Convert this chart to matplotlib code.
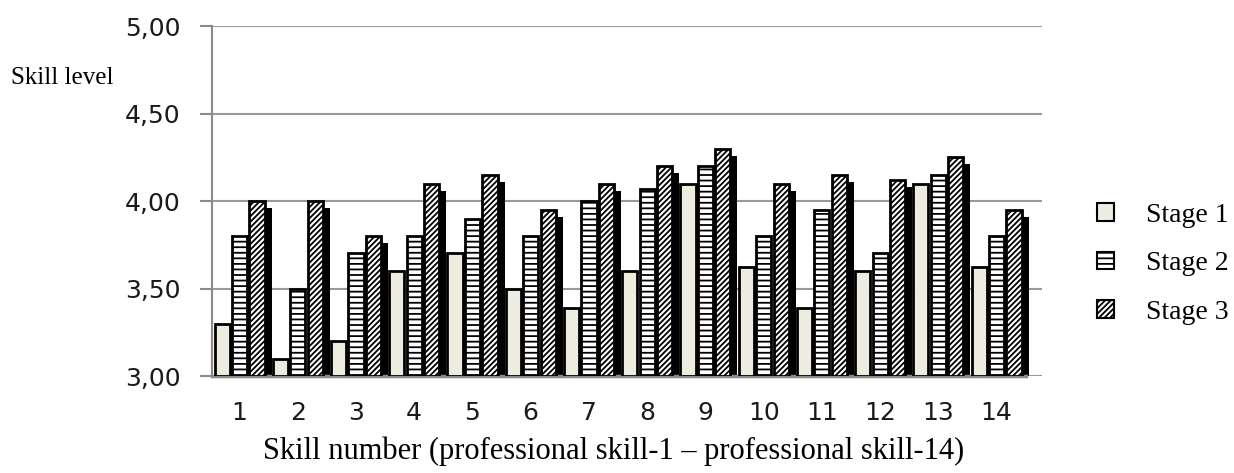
import numpy as np
import matplotlib
matplotlib.use("Agg")
import matplotlib.pyplot as plt
from matplotlib.patches import Patch
from matplotlib.ticker import FuncFormatter

# Data
skills = list(range(1, 15))
stage1 = [3.30, 3.10, 3.20, 3.60, 3.70, 3.50, 3.39, 3.60, 4.10, 3.62, 3.39, 3.60, 4.10, 3.62]
stage2 = [3.80, 3.50, 3.70, 3.80, 3.90, 3.80, 4.00, 4.07, 4.20, 3.80, 3.95, 3.70, 4.15, 3.80]
stage3 = [4.00, 4.00, 3.80, 4.10, 4.15, 3.95, 4.10, 4.20, 4.30, 4.10, 4.15, 4.12, 4.25, 3.95]
labels = ["Stage 1", "Stage 2", "Stage 3"]

plt.rcParams["hatch.linewidth"] = 1.3

fig = plt.figure(figsize=(12.34, 4.73), dpi=100)
ax = fig.add_axes([212 / 1234, 1 - 376 / 473, 830 / 1234, 350 / 473])

x = np.array(skills)
w = 0.26
step = 0.30
base = 3.0

s1 = np.array(stage1)
s2 = np.array(stage2)
s3 = np.array(stage3)

ax.bar(x - step, s1 - base, w, bottom=base, color="#EEEBE0", edgecolor="black", linewidth=2.0, zorder=3)
ax.bar(x, s2 - base, w, bottom=base, color="white", edgecolor="black", linewidth=2.0, hatch="---", zorder=3)
# drop shadow behind stage 3
ax.bar(x + step + 0.12, s3 - base - 0.04, w, bottom=base, color="black", edgecolor="black", linewidth=0, zorder=2)
ax.bar(x + step, s3 - base, w, bottom=base, color="white", edgecolor="black", linewidth=2.0, hatch="//////", zorder=3)

ax.set_xlim(0.527, 14.78)
ax.set_ylim(3.0, 5.0)
ax.set_yticks([3.0, 3.5, 4.0, 4.5, 5.0])
ax.yaxis.set_major_formatter(FuncFormatter(lambda v, p: f"{v:.2f}".replace(".", ",")))
ax.set_xticks(x)
ax.set_xticklabels([str(s) for s in skills])

ax.grid(axis="y", color="#9a9a9a", linewidth=1.5, zorder=0)
for side in ["top", "right"]:
    ax.spines[side].set_visible(False)
ax.spines["left"].set_color("#8a8a8a")
ax.spines["left"].set_linewidth(1.5)
ax.spines["bottom"].set_color("#8a8a8a")
ax.spines["bottom"].set_linewidth(2.5)
ax.spines["bottom"].set_bounds(0.527, 14.51)
ax.tick_params(axis="y", length=8.6, color="#8a8a8a", width=1.5, labelsize=18, pad=14)
ax.tick_params(axis="x", length=0, labelsize=18, pad=18)
for t in ax.get_xticklabels() + ax.get_yticklabels():
    t.set_color("#1a1a1a")

fig.text(0.009, 0.835, "Skill level", fontsize=18, family="Liberation Serif", ha="left", va="center")
fig.text(0.497, 0.045, "Skill number (professional skill-1 \u2013 professional skill-14)",
         fontsize=22, family="Liberation Serif", ha="center", va="center")

handles = [
    Patch(facecolor="#EEEBE0", edgecolor="black", linewidth=1.5),
    Patch(facecolor="white", edgecolor="black", linewidth=1.5, hatch="---"),
    Patch(facecolor="white", edgecolor="black", linewidth=1.5, hatch="//////"),
]
fig.legend(handles, labels, loc="center left", bbox_to_anchor=(0.869, 0.442), frameon=False,
           prop={"family": "Liberation Serif", "size": 20}, handlelength=0.6, handleheight=0.6,
           labelspacing=0.85, handletextpad=1.15)

fig.savefig("out.png", dpi=100)
